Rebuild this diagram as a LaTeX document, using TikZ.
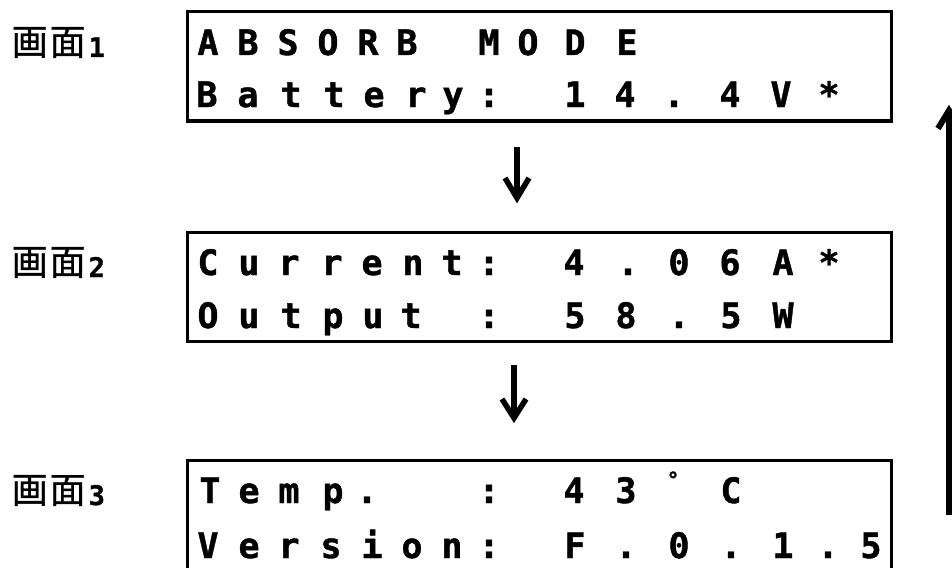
\documentclass[tikz,border=0pt]{standalone}
\usepackage{fontspec}
\usetikzlibrary{calc}
\newfontfamily\lcdfont{DejaVu Sans Mono Bold}[RawFeature={embolden=1.2}]
\newfontfamily\cjkfont{Noto Sans CJK JP}[RawFeature={embolden=0.8}]
\newcommand\labtext[1]{{\cjkfont\fontsize{36}{36}\selectfont\raisebox{2pt}{画\hspace{2pt}面}}\hspace{3pt}{\lcdfont\fontsize{27}{27}\selectfont #1}}
\newcommand\degsym{\raisebox{16pt}{\fontsize{21}{21}\selectfont °}}
\begin{document}
\begin{tikzpicture}[x=1pt,y=-1pt,
  lcdbox/.style={draw, line width=3pt, minimum width=704pt, minimum height=109pt, inner sep=0pt, outer sep=0pt},
  lcd/.style={anchor=base, inner sep=0pt, font=\lcdfont\fontsize{35}{35}\selectfont},
  lab/.style={anchor=base west, inner sep=0pt},
  flow/.style={line width=5.5pt},
  barb/.style={line width=5.5pt, line join=miter, miter limit=20}]
\useasboundingbox (0,0) rectangle (952,567);
\clip (0,0) rectangle (952,567);
\fill[white] (0,0) rectangle (952,567);
% boxes
\node[lcdbox] (box1) at (539,66.5) {};
\node[lcdbox] (box2) at (539,286.75) {};
\node[lcdbox] (box3) at (539,514.5) {};
% labels
\node[lab] (lab1) at (11.5,57) {\labtext{1}};
\node[lab] (lab2) at (11.5,277) {\labtext{2}};
\node[lab] (lab3) at (11.5,505) {\labtext{3}};
% box 1
\foreach \x/\c [count=\i] in {208/A,248/B,288/S,328/O,368/R,407/B,489/M,528/O,575/D,627/E}
  \node[lcd] (ra-\i) at (\x,55) {\c};
\foreach \x/\c [count=\i] in {207/B,248/a,291/t,334/t,374/e,416/r,453/y,489/:,575/1,625/4,674/.,730/4,781/V,829/*}
  \node[lcd] (rb-\i) at (\x,107) {\c};
% box 2
\foreach \x/\c [count=\i] in {208/C,249/u,289/r,332/r,372/e,413/n,452/t,489/:,574/4,628/.,679/0,730/6,783/A,829/*}
  \node[lcd] (rc-\i) at (\x,275) {\c};
\foreach \x/\c [count=\i] in {208/O,249/u,291/t,333/p,373/u,411/t,489/:,575/5,626/8,679/.,731/5,783/W}
  \node[lcd] (rd-\i) at (\x,328) {\c};
% box 3
\foreach \x/\c [count=\i] in {210/T,249/e,289/m,333/p,367/.,489/:,574/4,626/3,673/\degsym,731/C}
  \node[lcd] (re-\i) at (\x,503) {\c};
\foreach \x/\c [count=\i] in {208/V,249/e,289/r,331/s,372/i,412/o,452/n,489/:,575/F,626/.,679/0,731/.,783/1,828/.,871/5}
  \node[lcd] (rf-\i) at (\x,558) {\c};
% arrows
\coordinate (a1s) at (517,147);
\coordinate (a1e) at (517,198);
\coordinate (a2s) at (514,365);
\coordinate (a2e) at (514,418);
\coordinate (a3s) at (949,515);
\coordinate (a3e) at (949,110.5);
\draw[flow] (a1s) -- (a1e);
\draw[barb] ($(a1e)+(-12,-20)$) -- (a1e) -- ($(a1e)+(12,-20)$);
\draw[flow] (a2s) -- (a2e);
\draw[barb] ($(a2e)+(-12,-19)$) -- (a2e) -- ($(a2e)+(12,-19)$);
\draw[flow, line width=6pt] (a3s) -- (a3e);
\draw[barb, line width=6pt] ($(a3e)+(-11,18)$) -- (a3e) -- ($(a3e)+(11,18)$);
\end{tikzpicture}
\end{document}
